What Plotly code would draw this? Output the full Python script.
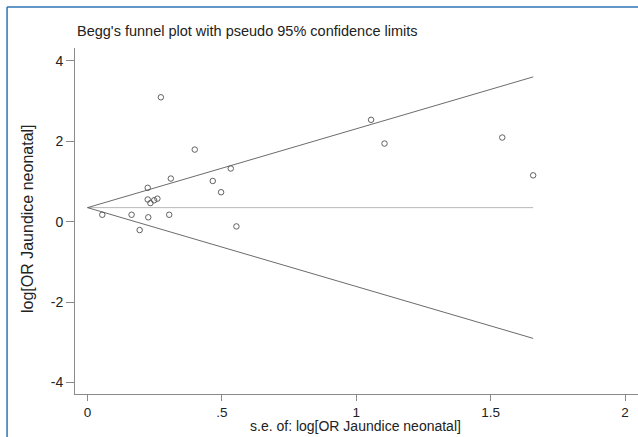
import plotly.graph_objects as go

# Study standard errors and log odds ratios
se = [0.055, 0.164, 0.194, 0.226, 0.224, 0.224, 0.234, 0.248, 0.260, 0.304, 0.310,
      0.273, 0.399, 0.466, 0.497, 0.533, 0.554, 1.055, 1.105, 1.543, 1.658]
log_or = [0.17, 0.17, -0.21, 0.107, 0.84, 0.55, 0.46, 0.53, 0.57, 0.17, 1.07,
          3.09, 1.79, 1.01, 0.73, 1.32, -0.12, 2.53, 1.94, 2.09, 1.15]

theta = 0.347          # pooled estimate
z = 1.96               # pseudo 95% limits
x_ticks = [0, 0.5, 1, 1.5, 2]
x_tick_labels = ["0", ".5", "1", "1.5", "2"]
y_ticks = [-4, -2, 0, 2, 4]
y_tick_labels = ["-4", "-2", "0", "2", "4"]

W, H = 638, 437
L, R, T, B = 74.5, 0, 48, 43
pw = W - L - R
ph = H - T - B

se_max = max(se)
font = "Liberation Sans, Arial, sans-serif"

fig = go.Figure()
fig.add_trace(go.Scatter(x=[0, se_max], y=[theta, theta], mode="lines",
                         line=dict(color="#b8b8b8", width=1), hoverinfo="skip"))
fig.add_trace(go.Scatter(x=[0, se_max], y=[theta, theta + z * se_max], mode="lines",
                         line=dict(color="#5a5a5a", width=0.9), hoverinfo="skip"))
fig.add_trace(go.Scatter(x=[0, se_max], y=[theta, theta - z * se_max], mode="lines",
                         line=dict(color="#5a5a5a", width=0.9), hoverinfo="skip"))
fig.add_trace(go.Scatter(x=se, y=log_or, mode="markers",
                         marker=dict(symbol="circle-open", size=5.5, color="#505050",
                                     line=dict(width=0.9, color="#505050"))))


def px_to_paper_x(px):
    return (px - L) / pw


def px_to_paper_y(py):
    return (H - B - py) / ph


fig.update_layout(
    width=W, height=H,
    margin=dict(l=L, r=R, t=T, b=B),
    paper_bgcolor="white", plot_bgcolor="white",
    showlegend=False,
    font=dict(family=font, size=14, color="#222222"),
    xaxis=dict(range=[-0.0465, 2.048], tickvals=x_ticks, ticktext=x_tick_labels,
               showgrid=False, zeroline=False, showline=True, linecolor="#8a8a8a",
               linewidth=1, ticks="outside", ticklen=6, tickcolor="#8a8a8a",
               tickfont=dict(size=13.5, family=font, color="#222222")),
    yaxis=dict(range=[-4.285, 4.315], tickvals=y_ticks, ticktext=y_tick_labels,
               showgrid=False, zeroline=False, showline=True, linecolor="#8a8a8a",
               linewidth=1, ticks="outside", ticklen=8, tickcolor="#8a8a8a",
               tickfont=dict(size=14, family=font, color="#222222")),
    annotations=[
        dict(text="Begg's funnel plot with pseudo 95% confidence limits",
             xref="paper", yref="paper", x=px_to_paper_x(75), y=px_to_paper_y(31),
             xanchor="left", yanchor="middle", showarrow=False,
             font=dict(size=14.5, family=font, color="#222222")),
        dict(text="s.e. of: log[OR Jaundice neonatal]",
             xref="paper", yref="paper", x=px_to_paper_x(355), y=px_to_paper_y(426),
             xanchor="center", yanchor="middle", showarrow=False,
             font=dict(size=14, family=font, color="#222222")),
        dict(text="log[OR Jaundice neonatal]", textangle=-90,
             xref="paper", yref="paper", x=px_to_paper_x(27), y=px_to_paper_y(218.5),
             xanchor="center", yanchor="middle", showarrow=False,
             font=dict(size=16, family=font, color="#222222")),
    ],
    shapes=[
        dict(type="line", xref="paper", yref="paper",
             x0=px_to_paper_x(6.5), x1=px_to_paper_x(6.5),
             y0=px_to_paper_y(7), y1=px_to_paper_y(440),
             line=dict(color="#2f74b5", width=1.5)),
        dict(type="line", xref="paper", yref="paper",
             x0=px_to_paper_x(6.5), x1=px_to_paper_x(645),
             y0=px_to_paper_y(7), y1=px_to_paper_y(7),
             line=dict(color="#2f74b5", width=1.5)),
    ],
)

fig.write_html("out.html",
               config={"displayModeBar": False},
               post_script="document.body.style.margin='0px';"
                           "document.body.style.overflow='hidden';")
